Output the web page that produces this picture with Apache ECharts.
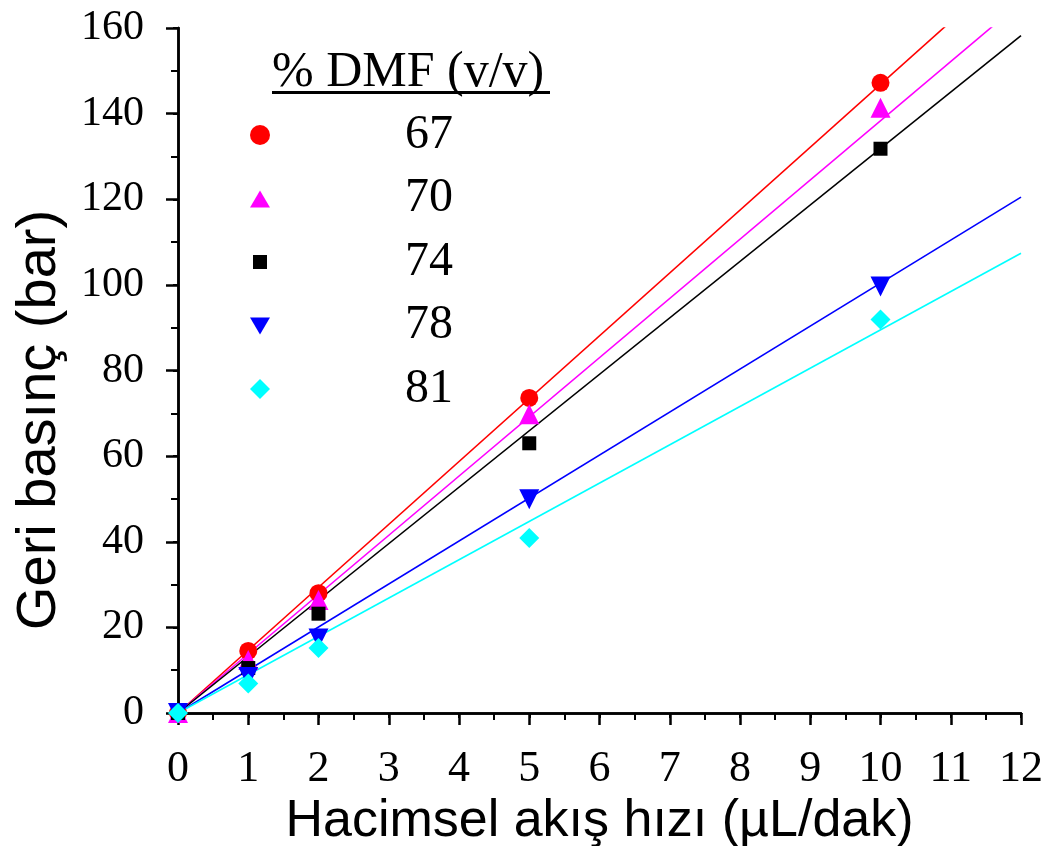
<!DOCTYPE html>
<html>
<head>
<meta charset="utf-8">
<script src="https://cdn.jsdelivr.net/npm/echarts@6/dist/echarts.min.js"></script>
<style>
  html, body { margin: 0; padding: 0; background: #fff; }
  #chart { width: 1057px; height: 846px; }
</style>
</head>
<body>
<div id="chart"></div>
<script>
// debit (uL/dak) ve geri basinc (bar) degerleri
const flowRates = [0, 1, 2, 5, 10];
const dmfLevels = ['67', '70', '74', '78', '81'];
const p67 = [0, 14.5, 28.0, 73.6, 147.2];
const p70 = [0, 12.4, 26.4, 69.8, 141.4];
const p74 = [0, 10.5, 23.2, 63.0, 131.8];
const p78 = [0, 8.4, 17.4, 49.9, 99.6];
const p81 = [0, 6.9, 15.2, 40.9, 91.9];
// fit dogrularinin x=12 deki degerleri (orijinden gecer)
const fitX = [0, 12];
const fitEnd = [176.2, 166.0, 158.2, 120.5, 107.4];

const colors = ['#ff0000', '#ff00ff', '#000000', '#0000ff', '#00ffff'];
const symbols = ['circle', 'triangle', 'rect', 'triangle', 'diamond'];
const symbolSizes = [18, 20, 14, 20, 20];
const rotations = [0, 0, 0, 180, 0];
// lejant ikonlari (22x22 kutu icinde)
const legendIcons = [
  'path://M0,0M22,22M1,11A10,10 0 1,0 21,11A10,10 0 1,0 1,11Z',
  'path://M0,0M22,22M1,20L21,20L11,3Z',
  'path://M0,0M22,22M4,4L18,4L18,18L4,18Z',
  'path://M0,0M22,22M1,3L21,3L11,20Z',
  'path://M0,0M22,22M11,1L21,11L11,21L1,11Z'
];
const allPressures = [p67, p70, p74, p78, p81];

const chart = echarts.init(document.getElementById('chart'));

const serif = 'Liberation Serif';
const sans = 'Liberation Sans';

const series = [];
dmfLevels.forEach(function (name, i) {
  series.push({
    name: 'fit' + name,
    type: 'line',
    data: fitX.map(function (x, k) { return [x, k === 0 ? 0 : fitEnd[i]]; }),
    showSymbol: false,
    symbol: 'none',
    lineStyle: { color: colors[i], width: 1.6 },
    clip: true,
    silent: true,
    z: 2
  });
});
dmfLevels.forEach(function (name, i) {
  series.push({
    name: name,
    type: 'scatter',
    data: flowRates.map(function (x, k) { return [x, allPressures[i][k]]; }),
    symbol: symbols[i],
    symbolSize: symbolSizes[i],
    symbolRotate: rotations[i],
    itemStyle: { color: colors[i], opacity: 1 },
    z: 3
  });
});

const option = {
  backgroundColor: '#fff',
  animation: false,
  grid: { left: 178, right: 36, top: 28, bottom: 133, containLabel: false, outerBoundsMode: 'none' },
  xAxis: [{
    type: 'value', min: 0, max: 12, interval: 1,
    name: 'Hacimsel akış hızı (µL/dak)',
    nameLocation: 'middle', nameGap: 73,
    nameTextStyle: { fontFamily: sans, fontSize: 52, color: '#000' },
    axisLine: { onZero: false, lineStyle: { color: '#000', width: 2.5 } },
    axisTick: { inside: false, length: 12, lineStyle: { color: '#000', width: 2.5 } },
    minorTick: { show: true, splitNumber: 2, length: 7, lineStyle: { color: '#000', width: 2 } },
    axisLabel: { fontFamily: serif, fontSize: 44, color: '#000', margin: 34 },
    splitLine: { show: false }
  }, {
    type: 'value', min: 0, max: 12, interval: 1, position: 'top',
    axisLine: { show: true, lineStyle: { color: '#000', width: 2.5 } },
    axisTick: { inside: true, length: 5, lineStyle: { color: '#000', width: 2 } },
    axisLabel: { show: false },
    splitLine: { show: false }
  }],
  yAxis: [{
    type: 'value', min: 0, max: 160, interval: 20,
    axisLine: { onZero: false, lineStyle: { color: '#000', width: 2.5 } },
    axisTick: { inside: false, length: 12, lineStyle: { color: '#000', width: 2.5 } },
    minorTick: { show: true, splitNumber: 2, length: 7, lineStyle: { color: '#000', width: 2 } },
    axisLabel: { fontFamily: serif, fontSize: 42, color: '#000', margin: 34 },
    splitLine: { show: false }
  }, {
    type: 'value', min: 0, max: 160, interval: 20, position: 'right',
    axisLine: { show: true, lineStyle: { color: '#000', width: 2.5 } },
    axisTick: { inside: true, length: 5, lineStyle: { color: '#000', width: 2 } },
    axisLabel: { show: false },
    splitLine: { show: false }
  }],
  legend: {
    data: dmfLevels.map(function (n, i) {
      return { name: n, icon: legendIcons[i], itemStyle: { color: colors[i] } };
    }),
    orient: 'vertical',
    left: 244,
    top: 106,
    itemWidth: 22,
    itemHeight: 22,
    itemGap: 15.5,
    selectedMode: false,
    textStyle: { fontFamily: serif, fontSize: 48, lineHeight: 48, color: '#000', padding: [0, 0, 0, 129] }
  },
  graphic: [{
    type: 'text', left: 272, top: 48,
    style: { text: '% DMF (v/v)', fontFamily: serif, fontSize: 50, fill: '#000' }
  }, {
    type: 'rect', left: 272, top: 91,
    shape: { width: 278, height: 3 },
    style: { fill: '#000' }
  }, {
    type: 'text',
    x: 40, y: 420,
    rotation: Math.PI / 2,
    style: {
      text: 'Geri basınç (bar)', fontFamily: sans, fontSize: 56, fill: '#000',
      align: 'center', verticalAlign: 'middle'
    }
  }],
  series: series
};

chart.setOption(option);
</script>
</body>
</html>
